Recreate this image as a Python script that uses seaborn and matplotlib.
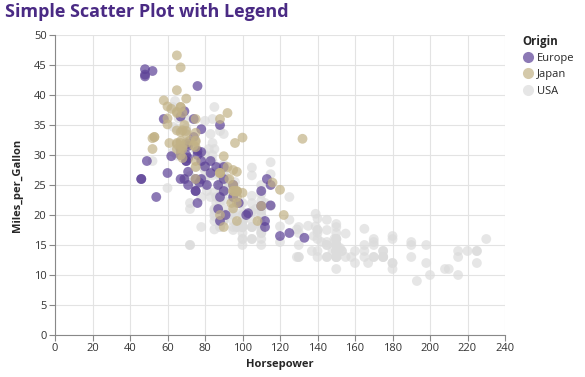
import pandas as pd
import numpy as np
import matplotlib
matplotlib.use('Agg')
import matplotlib.pyplot as plt
import seaborn as sns

# cars data, (horsepower, miles per gallon) by origin
usa_hp = [130, 165, 150, 150, 140, 198, 220, 215, 225, 190, 170, 160, 150, 225, 95, 97, 85, 90, 215, 200, 210, 193,
          90, 100, 105, 100, 88, 100, 165, 175, 153, 150, 180, 170, 175, 110, 72, 100, 88, 86, 70, 80, 90, 86,
          165, 175, 150, 153, 150, 208, 155, 160, 190, 150, 130, 140, 150, 86, 80,
          175, 150, 145, 137, 150, 198, 150, 158, 150, 215, 225, 175, 105, 100, 100, 88, 95, 150, 167, 170, 180,
          100, 72, 85, 107, 145, 230, 150, 180,
          95, 100, 100, 80, 75, 100, 110, 105, 140, 150, 150, 140, 150, 75,
          95, 105, 72, 72, 170, 145, 150, 148, 110, 105, 110, 95, 110, 110, 129, 83, 100, 78, 97, 90, 92, 79,
          140, 150, 120, 152, 100, 105, 81, 90, 52, 60, 100, 78, 110, 95, 72, 150, 180, 145, 130, 150,
          80, 96, 145, 110, 145, 130, 110, 105, 100, 98, 180, 170, 190, 149, 88, 89, 63, 83,
          66, 110, 140, 139, 105, 95, 85, 88, 100, 90, 105, 85, 110, 120, 145, 165, 139, 140, 68, 75, 105, 85,
          115, 85, 88, 90, 110, 130, 129, 138, 135, 155, 142, 125, 150, 80, 80, 125, 90, 70, 70,
          90, 115, 115, 90, 70, 90, 88, 90, 90, 105,
          84, 84, 92, 110, 84, 64, 63, 65, 65, 110, 105, 88, 85, 88, 88, 88, 85,
          84, 90, 92, 63, 70, 110, 85, 92, 112, 84, 90, 86, 84, 79, 82]
usa_mpg = [18, 15, 18, 16, 17, 15, 14, 14, 14, 15, 15, 14, 15, 14, 22, 18, 21, 21, 10, 10, 11, 9,
           28, 19, 16, 17, 19, 18, 14, 14, 14, 14, 12, 13, 13, 18, 22, 19, 18, 23, 26, 25, 20, 21,
           13, 14, 15, 14, 17, 11, 13, 12, 13, 15, 13, 13, 14, 22, 28,
           13, 14, 13, 14, 15, 12, 13, 13, 14, 13, 12, 13, 18, 16, 18, 18, 23, 11, 12, 13, 12,
           18, 21, 19, 21, 15, 16, 15, 11,
           20, 19, 15, 26, 25, 16, 16, 18, 16, 13, 14, 14, 14, 28,
           19, 18, 15, 15, 16, 15, 16, 14, 17, 16, 15, 18, 21, 20, 13, 23, 20, 23, 18, 19, 25, 26,
           17.5, 16, 15.5, 14.5, 22, 22, 24, 22.5, 29, 24.5, 20, 18, 18.5, 17.5, 26.5, 13, 16.5, 13, 13, 13,
           30, 25.5, 17.5, 17, 15.5, 15, 17.5, 20.5, 19, 18.5, 16, 15.5, 15.5, 16, 24.5, 25.5, 30.5, 33.5,
           36.1, 19.9, 19.4, 20.2, 19.2, 20.5, 20.2, 25.1, 20.5, 19.4, 20.6, 20.8, 18.6, 18.1, 19.2, 17.7, 18.1,
           17.5, 30, 30.9, 23.2, 23.8,
           21.5, 19.8, 22.3, 20.2, 20.6, 17, 17.6, 16.5, 18.2, 16.9, 15.5, 19.2, 18.5, 35.7, 27.4, 23, 23.9,
           34.2, 34.5,
           28.4, 28.8, 26.8, 33.5, 32.1, 28, 26.4, 24.3, 19.1, 27.9,
           27.2, 26.6, 25.8, 23.5, 30, 39, 34.7, 34.4, 29.9, 22.4, 26.6, 20.2, 17.6, 28, 27, 34, 31,
           29, 27, 24, 38, 36, 25, 38, 26, 22, 36, 27, 27, 32, 28, 31]

europe_hp = [46, 87, 90, 95, 113, 90, 70, 76, 60, 54, 112, 76, 87, 69,
             46, 90, 49, 75, 91, 112, 110, 83, 67, 78, 75, 75, 67,
             71, 70, 95, 88, 98, 115, 86, 81, 83, 70, 71, 102, 88, 120,
             58, 78, 78, 110, 48, 103, 125, 115, 133, 71, 71, 77, 71, 69,
             76, 78, 48, 48, 67, 67, 62, 88, 74, 80, 76, 74, 52]
europe_mpg = [26, 25, 24, 25, 26, 28, 30, 30, 27, 23, 18, 22, 21, 26,
              26, 26, 29, 24, 20, 19, 24, 29, 26, 26, 24, 26, 31,
              25, 29, 23, 23, 22, 25, 28, 25, 27, 29, 29.5, 20, 19, 16.5,
              36, 29, 30.5, 21.5, 43.1, 20.3, 17, 21.6, 16.2, 31.5, 31.9, 25.4, 27.2, 37.3,
              41.5, 34.3, 44.3, 43.4, 36.4, 30, 29.8, 35, 33, 28.1, 30.7, 36, 44]

japan_hp = [95, 88, 88, 95, 65, 69, 95, 97, 92, 97, 88, 88, 94, 90, 122,
            67, 65, 52, 61, 97, 93, 75, 96, 97, 53, 53, 70, 75, 108,
            68, 70, 75, 67, 97, 110, 52, 70, 60, 95, 97, 95, 97, 68, 65, 65,
            60, 65, 90, 75, 92, 75, 65, 65, 67, 67, 132, 100,
            72, 58, 60, 67, 65, 62, 68, 75, 75, 100, 74, 116, 120,
            68, 68, 88, 75, 70, 67, 67, 67, 96]
japan_mpg = [24, 27, 27, 25, 31, 35, 24, 19, 28, 23, 27, 20, 22, 18, 20,
             31, 32, 31, 32, 24, 26, 29, 24, 24, 33, 33, 32, 28, 19,
             31.5, 33.5, 26, 30, 22, 21.5, 32.8, 39.4, 36.1, 27.5, 27.2, 21.1, 23.9, 29.5, 34.1, 31.8,
             38.1, 37.2, 29.8, 31.3, 37, 32.2, 46.6, 40.8, 44.6, 33.8, 32.7, 23.7,
             32.4, 39.1, 35.1, 32.3, 37, 37.7, 34.1, 33.7, 32.4, 32.9, 31.6, 25.4, 24.2,
             37, 31, 36, 36, 34, 38, 32, 38, 32]

origins = ['Europe', 'Japan', 'USA']
colors = ['#5c4196', '#c2b286', '#dcdcdc']

df = pd.concat([
    pd.DataFrame({'Horsepower': usa_hp, 'Miles_per_Gallon': usa_mpg, 'Origin': 'USA'}),
    pd.DataFrame({'Horsepower': europe_hp, 'Miles_per_Gallon': europe_mpg, 'Origin': 'Europe'}),
    pd.DataFrame({'Horsepower': japan_hp, 'Miles_per_Gallon': japan_mpg, 'Origin': 'Japan'}),
], ignore_index=True)

sns.set_style('white')
plt.rcParams['font.family'] = ['Open Sans', 'DejaVu Sans']

fig = plt.figure(figsize=(5.85, 3.77), dpi=100)
ax = fig.add_axes([55 / 585, 1 - 335 / 377, 450 / 585, 300 / 377])

sns.scatterplot(data=df, x='Horsepower', y='Miles_per_Gallon', hue='Origin',
                hue_order=origins, palette=colors, s=50, alpha=0.7,
                linewidth=0, ax=ax, legend=False)

ax.set_xlim(0, 240)
ax.set_ylim(0, 50)
ax.set_xticks(np.arange(0, 241, 20))
ax.set_yticks(np.arange(0, 51, 5))
ax.grid(True, color='#e3e3e3', linewidth=0.8)
ax.set_axisbelow(True)
for side in ['top', 'right']:
    ax.spines[side].set_visible(False)
for side in ['left', 'bottom']:
    ax.spines[side].set_color('#888888')
    ax.spines[side].set_linewidth(0.8)
ax.tick_params(axis='both', length=4, width=0.8, color='#888888',
               labelsize=8, labelcolor='#333333', pad=2, direction='out')
ax.tick_params(bottom=True, left=True)
ax.set_xlabel('Horsepower', fontsize=8, fontweight='bold', labelpad=3)
ax.set_ylabel('Miles_per_Gallon', fontsize=8, fontweight='bold', labelpad=8)

fig.text(5 / 585, 1 - 12 / 377, 'Simple Scatter Plot with Legend', fontsize=13,
         fontweight='bold', color='#4a2a84', va='center', ha='left')

# legend
handles = [plt.Line2D([], [], marker='o', linestyle='', markersize=8,
                      markerfacecolor=c, markeredgewidth=0, alpha=0.7) for c in colors]
leg = fig.legend(handles, origins, loc='upper left',
                 bbox_to_anchor=(517 / 585, 1 - 29 / 377), frameon=False,
                 title='Origin', fontsize=8, title_fontsize=8.3,
                 handletextpad=0.3, labelspacing=0.48, borderpad=0, handlelength=1.0,
                 alignment='left')
leg.get_title().set_fontweight('bold')

fig.savefig('out.png', dpi=100)
